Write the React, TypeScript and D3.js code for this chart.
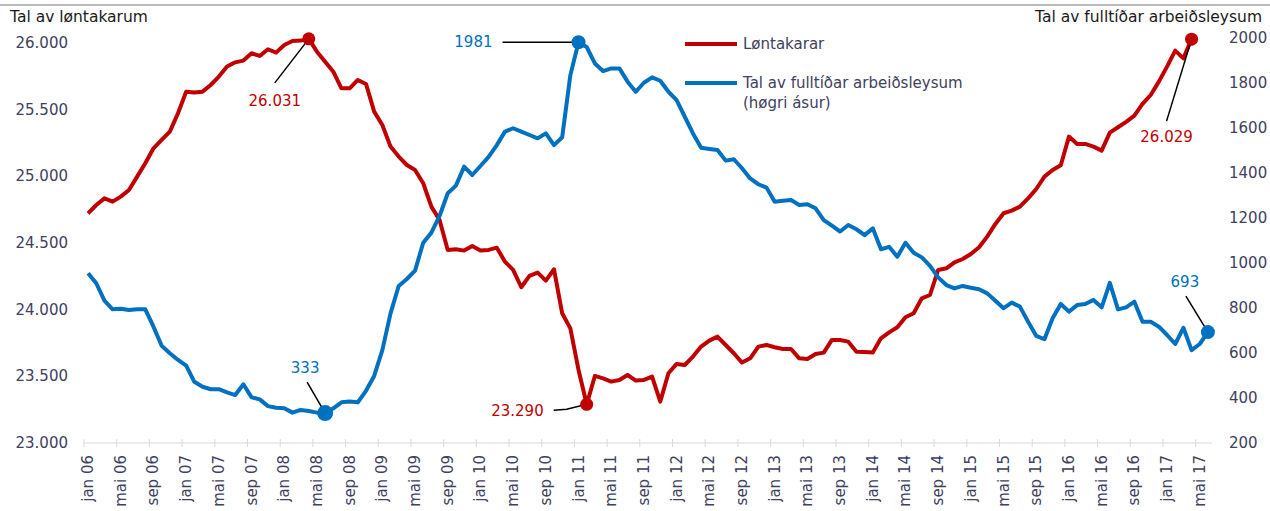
import { FC, useEffect, useRef } from 'react';
import * as d3 from 'd3';

// months shown on the category axis (jan 06 .. jun 17)
const monthNames = ['jan', 'feb', 'mar', 'apr', 'mai', 'jun', 'jul', 'aug', 'sep', 'okt', 'nov', 'des'];
const years = ['06', '07', '08', '09', '10', '11', '12', '13', '14', '15', '16', '17'];
const monthCount = 138;

// Løntakarar (left axis)
const wageEarners = [
  24722, 24785, 24835, 24810, 24848, 24898, 24998, 25098, 25210, 25273,
  25335, 25473, 25635, 25628, 25635, 25685, 25748, 25823, 25855, 25868,
  25923, 25903, 25953, 25928, 25985, 26015, 26018, 26031, 25935, 25860,
  25785, 25660, 25660, 25723, 25693, 25485, 25385, 25223, 25148, 25085,
  25048, 24948, 24773, 24673, 24448, 24453, 24443, 24478, 24443, 24448,
  24465, 24360, 24298, 24168, 24253, 24278, 24218, 24303, 23973, 23860,
  23548, 23290, 23503, 23485, 23460, 23473, 23510, 23468, 23473, 23498,
  23310, 23523, 23593, 23585, 23648, 23723, 23768, 23798, 23735, 23673,
  23603, 23635, 23723, 23735, 23718, 23705, 23705, 23635, 23630, 23668,
  23678, 23773, 23773, 23760, 23685, 23683, 23678, 23785, 23830, 23868,
  23943, 23973, 24085, 24110, 24298, 24310, 24355, 24380, 24418, 24468,
  24548, 24643, 24723, 24743, 24773, 24835, 24905, 24998, 25048, 25083,
  25298, 25243, 25243, 25223, 25193, 25328, 25368, 25408, 25455, 25543,
  25610, 25710, 25823, 25943, 25885, 26029
];

// Tal av fulltíðar arbeiðsleysum (right axis)
const unemployed = [
  954, 910, 833, 794, 797, 791, 794, 794, 717, 632,
  599, 569, 544, 472, 450, 439, 439, 425, 413, 461,
  403, 394, 364, 357, 354, 335, 347, 342, 335, 333,
  354, 381, 384, 381, 432, 498, 613, 776, 898, 929,
  966, 1090, 1135, 1209, 1310, 1344, 1428, 1391, 1431, 1472,
  1524, 1584, 1599, 1584, 1569, 1554, 1576, 1524, 1559, 1835,
  1981, 1960, 1887, 1853, 1865, 1865, 1806, 1761, 1801, 1825,
  1810, 1761, 1724, 1650, 1576, 1512, 1507, 1502, 1455, 1461,
  1421, 1376, 1350, 1335, 1272, 1277, 1280, 1258, 1261, 1243,
  1191, 1166, 1140, 1169, 1150, 1124, 1154, 1061, 1072, 1028,
  1090, 1046, 1025, 987, 936, 902, 887, 898, 890, 883,
  865, 832, 799, 824, 806, 739, 676, 661, 754, 818,
  784, 813, 818, 836, 803, 912, 794, 803, 828, 739,
  739, 717, 680, 640, 712, 613, 640, 693
];

const leftTicks = [23000, 23500, 24000, 24500, 25000, 25500, 26000];
const rightTicks = [200, 400, 600, 800, 1000, 1200, 1400, 1600, 1800, 2000];

const RED = '#C00000';
const BLUE = '#0070C0';
const TEXT = '#404060';
const FONT = '"DejaVu Sans", Verdana, sans-serif';

const months = d3.range(monthCount).map(i => `${monthNames[i % 12]} ${years[Math.floor(i / 12)]}`);

const fmtLeft = (v: number) => d3.format(',')(v).replace(/,/g, '.');

export const EmploymentChart: FC = () => {
  const svgRef = useRef<SVGSVGElement>(null);

  useEffect(() => {
    if (!svgRef.current) return;
    const svg = d3.select(svgRef.current);
    svg.selectAll('*').remove();

    const x = d3.scaleBand<string>().domain(months).range([84, 1212]).padding(0);
    const cx = (i: number) => (x(months[i]) ?? 0) + x.bandwidth() / 2;
    const yL = d3.scaleLinear().domain([23000, 26000]).range([443, 43]);
    const yR = d3.scaleLinear().domain([200, 2000]).range([443, 38]);

    // rule under the (cut off) heading
    svg.append('line')
      .attr('x1', 0).attr('x2', 1270).attr('y1', 5).attr('y2', 5)
      .attr('stroke', '#A6A6A6').attr('stroke-width', 1.5);

    // axis titles
    svg.append('text').attr('x', 10).attr('y', 22)
      .attr('font-size', '15.5px').attr('fill', '#1a1a1a').text('Tal av løntakarum');
    svg.append('text').attr('x', 1262).attr('y', 22).attr('text-anchor', 'end')
      .attr('font-size', '15.5px').attr('fill', '#1a1a1a').text('Tal av fulltíðar arbeiðsleysum');

    // left ticks
    leftTicks.forEach(t => {
      svg.append('text').attr('x', 68).attr('y', yL(t)).attr('text-anchor', 'end')
        .attr('dominant-baseline', 'central').attr('font-size', '15px').attr('fill', TEXT)
        .text(fmtLeft(t));
    });
    // right ticks
    rightTicks.forEach(t => {
      svg.append('text').attr('x', 1229).attr('y', yR(t))
        .attr('dominant-baseline', 'central').attr('font-size', '15px').attr('fill', TEXT)
        .text(String(t));
    });

    // category axis
    svg.append('line').attr('x1', 84).attr('x2', 1212).attr('y1', 443).attr('y2', 443)
      .attr('stroke', '#D9D9D9').attr('stroke-width', 1);
    months.forEach((m, i) => {
      if (i % 4 !== 0) return;
      const tx = x(m) ?? 0;
      svg.append('line').attr('x1', tx).attr('x2', tx).attr('y1', 439).attr('y2', 447)
        .attr('stroke', '#D9D9D9').attr('stroke-width', 1);
      svg.append('text')
        .attr('transform', `translate(${cx(i)},455) rotate(-90)`)
        .attr('text-anchor', 'end').attr('dominant-baseline', 'central')
        .attr('font-size', '15px').attr('fill', TEXT).text(m);
    });

    // lines
    const redLine = d3.line<number>().x((_, i) => cx(i)).y(d => yL(d));
    const blueLine = d3.line<number>().x((_, i) => cx(i)).y(d => yR(d));
    svg.append('path').datum(wageEarners).attr('d', redLine)
      .attr('fill', 'none').attr('stroke', RED).attr('stroke-width', 4).attr('stroke-linejoin', 'round');
    svg.append('path').datum(unemployed).attr('d', blueLine)
      .attr('fill', 'none').attr('stroke', BLUE).attr('stroke-width', 4).attr('stroke-linejoin', 'round');

    // annotations: leader offsets and label offsets are relative to the marked point
    const notes: { s: 'L' | 'R'; i: number; text: string; leader: [number, number][]; lx: number; ly: number; anchor: string; r: number }[] = [
      { s: 'L', i: 27, text: '26.031', leader: [[-34, 44]], lx: -34, ly: 62, anchor: 'middle', r: 6.5 },
      { s: 'R', i: 60, text: '1981', leader: [[-76, 0]], lx: -86, ly: 0, anchor: 'end', r: 7 },
      { s: 'L', i: 61, text: '23.290', leader: [[-20, 5], [-33, 6]], lx: -43, ly: 7, anchor: 'end', r: 6.5 },
      { s: 'R', i: 29, text: '333', leader: [[-18, -31]], lx: -20, ly: -45, anchor: 'middle', r: 8 },
      { s: 'L', i: 135, text: '26.029', leader: [[-25, 82]], lx: -25, ly: 98, anchor: 'middle', r: 6.5 },
      { s: 'R', i: 137, text: '693', leader: [[-22, -36]], lx: -23, ly: -50, anchor: 'middle', r: 7 }
    ];
    notes.forEach(n => {
      const px = cx(n.i);
      const py = n.s === 'L' ? yL(wageEarners[n.i]) : yR(unemployed[n.i]);
      const color = n.s === 'L' ? RED : BLUE;
      const pts: [number, number][] = [[px, py], ...n.leader.map(([dx, dy]) => [px + dx, py + dy] as [number, number])];
      svg.append('path').attr('d', d3.line()(pts))
        .attr('fill', 'none').attr('stroke', '#000').attr('stroke-width', 1.5);
      svg.append('circle').attr('cx', px).attr('cy', py).attr('r', n.r).attr('fill', color);
      svg.append('text').attr('x', px + n.lx).attr('y', py + n.ly)
        .attr('text-anchor', n.anchor).attr('dominant-baseline', 'central')
        .attr('font-size', '15px').attr('fill', color).text(n.text);
    });

    // legend
    const legend = [
      { color: RED, lines: ['Løntakarar'], y: 44 },
      { color: BLUE, lines: ['Tal av fulltíðar arbeiðsleysum', '(høgri ásur)'], y: 83 }
    ];
    legend.forEach(l => {
      svg.append('line').attr('x1', 685).attr('x2', 737).attr('y1', l.y).attr('y2', l.y)
        .attr('stroke', l.color).attr('stroke-width', 4);
      l.lines.forEach((t, k) => {
        svg.append('text').attr('x', 743).attr('y', l.y + k * 20)
          .attr('dominant-baseline', 'central').attr('font-size', '15px').attr('fill', TEXT).text(t);
      });
    });
  }, []);

  return (
    <svg
      ref={svgRef}
      width={1270}
      height={511}
      style={{ position: 'absolute', left: 0, top: 0, background: '#fff', fontFamily: FONT }}
    />
  );
};

export default function App() {
  return <EmploymentChart />;
}
